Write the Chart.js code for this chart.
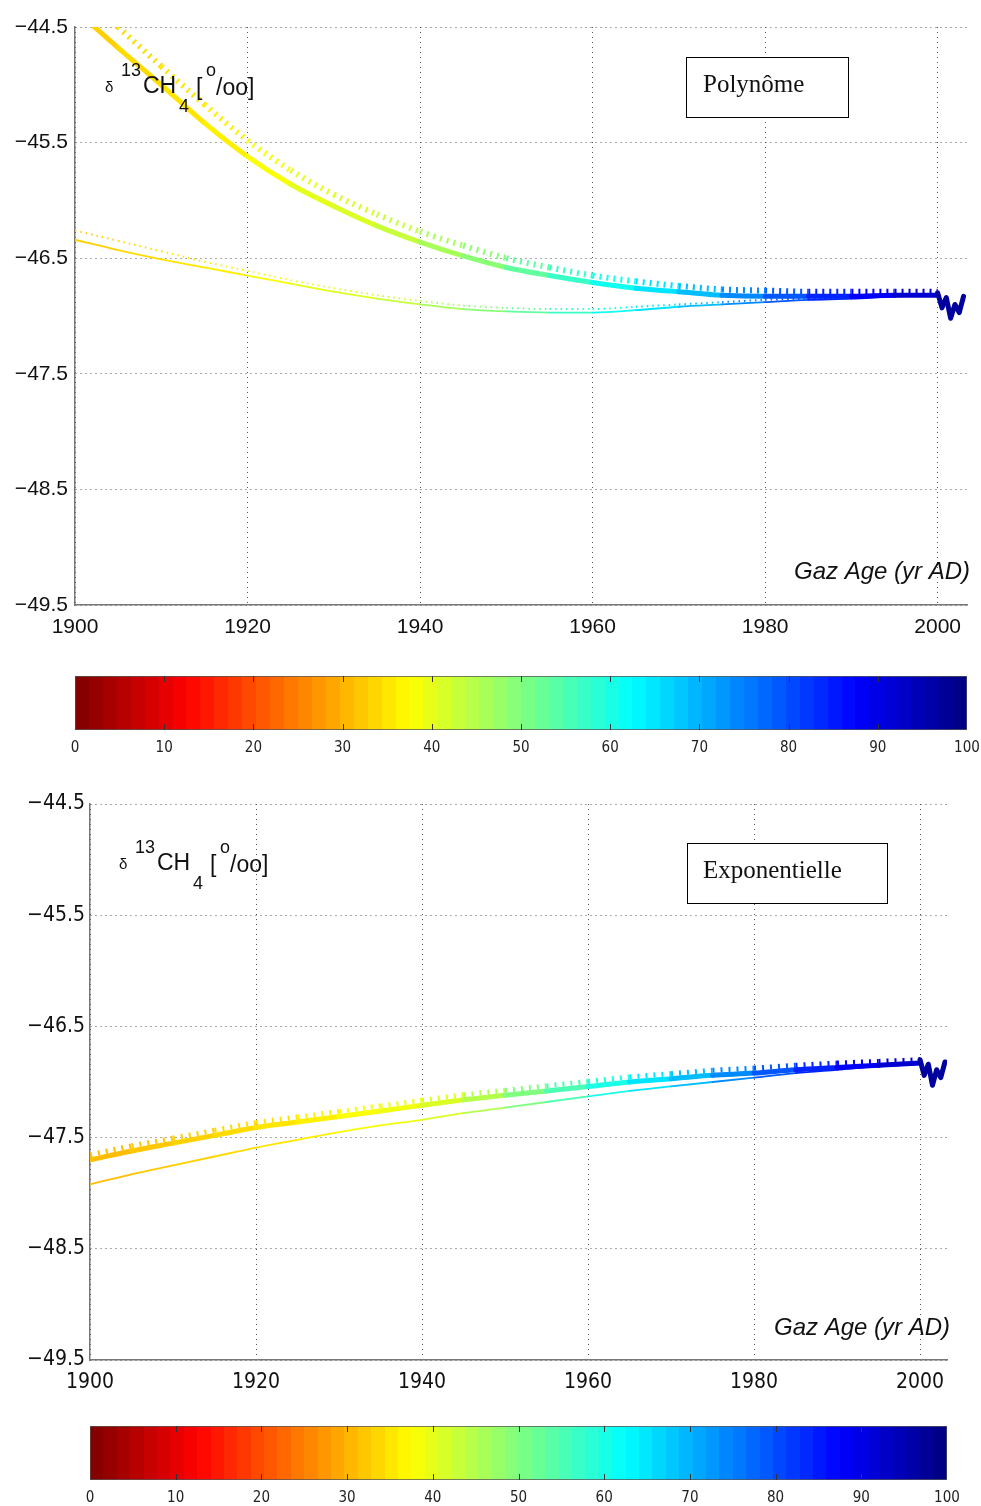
<!DOCTYPE html>
<html>
<head>
<meta charset="utf-8">
<title>delta13CH4 - Polynome / Exponentielle</title>
<script src="https://cdn.jsdelivr.net/npm/chart.js@4.4.0/dist/chart.umd.min.js"></script>
<style>
  body { margin: 0; background: #fff; }
  canvas { position: absolute; left: 0; }
</style>
</head>
<body>
<canvas id="polyChart" width="981" height="650" style="top:0px"></canvas>
<canvas id="polyBar" width="981" height="110" style="top:660px"></canvas>
<canvas id="expChart" width="981" height="630" style="top:775px"></canvas>
<canvas id="expBar" width="981" height="96" style="top:1410px"></canvas>
<script>
// gas age (yr AD)
const years = [1900, 1905, 1910, 1915, 1920, 1925, 1930, 1935, 1940, 1945, 1950,
               1955, 1960, 1965, 1970, 1975, 1980, 1985, 1990, 1995, 2000];

// top panel : polynome
const polyUpper      = [-44.35, -44.68, -45.00, -45.33, -45.62, -45.86, -46.05, -46.22, -46.36, -46.48, -46.58,
                        -46.65, -46.71, -46.76, -46.79, -46.82, -46.83, -46.83, -46.83, -46.82, -46.82];
const polyUpperTicks = [-44.17, -44.50, -44.84, -45.17, -45.48, -45.74, -45.95, -46.12, -46.27, -46.39, -46.50,
                        -46.58, -46.65, -46.70, -46.74, -46.77, -46.78, -46.79, -46.79, -46.79, -46.79];
const polyLower      = [-46.34, -46.43, -46.51, -46.58, -46.65, -46.72, -46.79, -46.85, -46.90, -46.94, -46.96,
                        -46.97, -46.97, -46.95, -46.92, -46.90, -46.88, -46.86, -46.85, -46.83, -46.82];
const polyLowerDots  = [-46.26, -46.35, -46.44, -46.53, -46.61, -46.69, -46.76, -46.82, -46.87, -46.91, -46.93,
                        -46.94, -46.94, -46.92, -46.90, -46.88, -46.86, -46.85, -46.84, -46.83, -46.82];
const polyColour     = [33, 34, 35, 36, 38, 40, 41, 43, 46, 49, 53, 57, 61, 65, 69, 74, 79, 84, 88, 92, 96];

// bottom panel : exponentielle
const expUpper      = [-47.70, -47.62, -47.55, -47.48, -47.41, -47.36, -47.31, -47.26, -47.21, -47.16, -47.12,
                       -47.08, -47.04, -47.00, -46.97, -46.94, -46.92, -46.89, -46.87, -46.85, -46.83];
const expUpperTicks = [-47.655, -47.575, -47.505, -47.435, -47.365, -47.315, -47.265, -47.215, -47.165, -47.115, -47.075,
                       -47.035, -46.995, -46.955, -46.925, -46.895, -46.875, -46.85, -46.83, -46.815, -46.80];
const expLower      = [-47.92, -47.83, -47.75, -47.67, -47.59, -47.52, -47.45, -47.39, -47.34, -47.28, -47.23,
                       -47.18, -47.13, -47.08, -47.04, -47.00, -46.96, -46.92, -46.89, -46.86, -46.84];
const expColour     = [31, 32, 33, 34, 35, 36, 38, 39, 41, 45, 50, 55, 60, 65, 69, 74, 79, 84, 88, 92, 96];

// wiggle at the very end of both records
const endYears = [2000, 2000.5, 2001, 2001.5, 2002, 2002.5, 2003];
const polyEnd  = [-46.80, -46.93, -46.84, -47.02, -46.90, -46.97, -46.83];
const expEnd   = [-46.80, -46.94, -46.84, -47.03, -46.89, -46.96, -46.82];
const endColour = [97, 97, 97, 97, 97, 97, 97];

const xTicks = [1900, 1920, 1940, 1960, 1980, 2000];
const yTicks = [-49.5, -48.5, -47.5, -46.5, -45.5, -44.5];
const barTicks = [0, 10, 20, 30, 40, 50, 60, 70, 80, 90, 100];

const SANS = "'Liberation Sans', Arial, Helvetica, sans-serif";
const NARROW = "'Liberation Sans Narrow', 'DejaVu Sans Condensed', 'Liberation Sans', sans-serif";
const SERIF = "'Liberation Serif', 'Times New Roman', serif";

// reversed jet colormap: 0 = dark red, 100 = dark blue
function jet(v, alpha) {
  const t = 1 - v / 100;
  const c = k => Math.round(255 * Math.min(1, Math.max(0, 1.5 - Math.abs(4 * t - k))));
  return `rgba(${c(3)}, ${c(2)}, ${c(1)}, ${alpha === undefined ? 1 : alpha})`;
}

function curve(xs, ys, colours, width, dash, order, tension) {
  return {
    data: xs.map((x, i) => ({ x, y: ys[i] })),
    borderWidth: width,
    borderDash: dash || [],
    borderCapStyle: dash ? 'butt' : 'round',
    borderJoinStyle: 'round',
    borderColor: jet(colours[0]),
    segment: { borderColor: c => jet(colours[c.p0DataIndex]) },
    pointRadius: 0,
    cubicInterpolationMode: tension === 0 ? 'default' : 'monotone',
    tension: 0,
    order,
    clip: 0,
  };
}

function textLayer(items) {
  return {
    id: 'textLayer',
    afterDraw(chart) {
      const ctx = chart.ctx;
      ctx.save();
      items.forEach(it => {
        if (it.box) {
          const [x, y, w, h] = it.box;
          ctx.fillStyle = '#fff';
          ctx.fillRect(x, y, w, h);
          ctx.strokeStyle = '#000';
          ctx.lineWidth = 1;
          ctx.strokeRect(x + 0.5, y + 0.5, w, h);
          return;
        }
        ctx.font = it.font;
        ctx.fillStyle = '#111';
        ctx.textAlign = it.align || 'left';
        ctx.textBaseline = it.base || 'alphabetic';
        ctx.fillText(it.text, it.x, it.y);
      });
      ctx.restore();
    }
  };
}

function deltaLabel(x0, y0) {
  // y0 = baseline of "CH"
  return [
    { text: 'δ', x: x0, y: y0 - 1, font: `15px ${SANS}` },
    { text: '13', x: x0 + 16, y: y0 - 17, font: `18px ${SANS}` },
    { text: 'CH', x: x0 + 38, y: y0, font: `23px ${SANS}` },
    { text: '4', x: x0 + 74, y: y0 + 19, font: `18px ${SANS}` },
    { text: '[', x: x0 + 91, y: y0 + 2, font: `23px ${SANS}` },
    { text: 'o', x: x0 + 101, y: y0 - 17, font: `18px ${SANS}` },
    { text: '/oo]', x: x0 + 111, y: y0 + 2, font: `23px ${SANS}` },
  ];
}

function makePlot(id, datasets, opts) {
  return new Chart(document.getElementById(id), {
    type: 'line',
    data: { datasets },
    options: {
      responsive: false,
      animation: false,
      events: [],
      layout: { padding: { top: opts.padTop, right: opts.padRight, left: 0, bottom: 0 } },
      plugins: { legend: { display: false }, tooltip: { enabled: false } },
      scales: {
        x: {
          type: 'linear',
          min: 1900,
          max: opts.xMax,
          afterBuildTicks: s => { s.ticks = xTicks.map(value => ({ value })); },
          afterFit: s => { s.height = opts.xHeight; s.paddingLeft = 0; s.paddingRight = 0; },
          grid: { color: '#555', lineWidth: 1, drawTicks: false },
          border: { display: true, color: '#777', width: 1.5, dash: [1, 4] },
          ticks: { color: '#111', padding: 10, font: { family: opts.tickFamily, size: 21 },
                   callback: v => String(v) },
        },
        y: {
          type: 'linear',
          min: -49.5,
          max: -44.5,
          afterBuildTicks: s => { s.ticks = yTicks.map(value => ({ value })); },
          afterFit: s => { s.width = opts.yWidth; },
          grid: { color: '#555', lineWidth: 1, drawTicks: false },
          border: { display: true, color: '#777', width: 1.5, dash: [1, 4] },
          ticks: { color: '#111', padding: opts.yPad, font: { family: opts.tickFamily, size: 21 },
                   callback: v => '\u2212' + Math.abs(v).toFixed(1) },
        },
      },
    },
    plugins: [textLayer(opts.labels)],
  });
}

const barTickMarks = {
  id: 'barTickMarks',
  afterDatasetsDraw(chart) {
    const { ctx, chartArea: a, scales: { x } } = chart;
    ctx.save();
    ctx.strokeStyle = '#333';
    ctx.lineWidth = 1;
    barTicks.slice(1, -1).forEach(v => {
      const px = Math.round(x.getPixelForValue(v)) + 0.5;
      ctx.beginPath();
      ctx.moveTo(px, a.top);
      ctx.lineTo(px, a.top + 6);
      ctx.moveTo(px, a.bottom);
      ctx.lineTo(px, a.bottom - 6);
      ctx.stroke();
    });
    ctx.restore();
  }
};

function makeBar(id, opts) {
  return new Chart(document.getElementById(id), {
    type: 'bar',
    data: {
      labels: [''],
      datasets: [{
        data: [100],
        barPercentage: 1,
        categoryPercentage: 1,
        borderWidth: 1,
        borderColor: '#555',
        borderSkipped: false,
        backgroundColor: c => {
          const a = c.chart.chartArea;
          if (!a) return 'transparent';
          const g = c.chart.ctx.createLinearGradient(a.left, 0, a.right, 0);
          for (let i = 0; i < 64; i++) {
            const col = jet((i + 0.5) * 100 / 64);
            g.addColorStop(i / 64, col);
            g.addColorStop((i + 1) / 64, col);
          }
          return g;
        },
      }],
    },
    options: {
      indexAxis: 'y',
      responsive: false,
      animation: false,
      events: [],
      layout: { padding: { top: opts.padTop, left: opts.padLeft, right: opts.padRight, bottom: 0 } },
      plugins: { legend: { display: false }, tooltip: { enabled: false } },
      scales: {
        y: { display: false },
        x: {
          type: 'linear',
          min: 0,
          max: 100,
          afterBuildTicks: s => { s.ticks = barTicks.map(value => ({ value })); },
          afterFit: s => { s.height = opts.xHeight; s.paddingLeft = 0; s.paddingRight = 0; },
          grid: { display: false, drawTicks: false },
          border: { display: false },
          ticks: { color: '#222', padding: 9, font: { family: NARROW, size: 15 } },
        },
      },
    },
    plugins: [barTickMarks],
  });
}

// top panel
makePlot('polyChart', [
  curve(endYears, polyEnd, endColour, 5, null, 0, 0),
  curve(years, polyUpper, polyColour, 5, null, 1),
  curve(years, polyUpperTicks, polyColour, 6, [2, 5], 2),
  curve(years, polyLower, polyColour, 1.8, null, 3),
  curve(years, polyLowerDots, polyColour, 2, [1.5, 4], 4),
], {
  padTop: 27, padRight: 14, yWidth: 75, xHeight: 45, xMax: 2003.4, yPad: 7, tickFamily: SANS,
  labels: [
    ...deltaLabel(105, 93),
    { box: [686, 57, 162, 60] },
    { text: 'Polynôme', x: 703, y: 85, font: `25px ${SERIF}`, base: 'middle' },
    { text: 'Gaz Age (yr AD)', x: 970, y: 572, font: `italic 24px ${SANS}`, align: 'right', base: 'middle' },
  ],
});

makeBar('polyBar', { padTop: 16, padLeft: 75, padRight: 14, xHeight: 40 });

// bottom panel
makePlot('expChart', [
  curve(endYears, expEnd, endColour, 5, null, 0, 0),
  curve(years, expUpper, expColour, 5, null, 1),
  curve(years, expUpperTicks, expColour, 5, [2, 6], 2),
  curve(years, expLower, expColour, 1.8, null, 3),
], {
  padTop: 29, padRight: 34, yWidth: 90, xHeight: 45, xMax: 2003.25, yPad: 5, tickFamily: NARROW,
  labels: [
    ...deltaLabel(119, 95),
    { box: [687, 68, 200, 60] },
    { text: 'Exponentielle', x: 703, y: 96, font: `25px ${SERIF}`, base: 'middle' },
    { text: 'Gaz Age (yr AD)', x: 950, y: 553, font: `italic 24px ${SANS}`, align: 'right', base: 'middle' },
  ],
});

makeBar('expBar', { padTop: 16, padLeft: 90, padRight: 34, xHeight: 26 });
</script>
</body>
</html>
